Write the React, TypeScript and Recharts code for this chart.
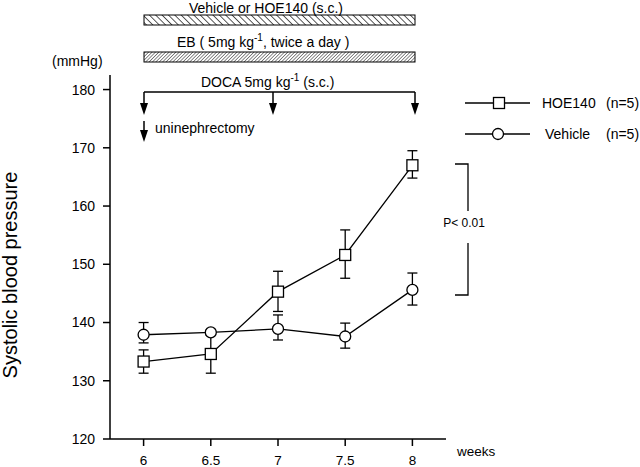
import { ComposedChart, Line, XAxis, YAxis, ErrorBar } from "recharts";

// weeks of age
const weeks = [6, 6.5, 7, 7.5, 8];
// systolic blood pressure, mmHg (mean) and error [below, above]
const hoe140 = [133.3, 134.6, 145.3, 151.6, 167.0];
const hoe140Err = [[2.0, 2.0], [3.3, 3.3], [3.4, 3.5], [4.0, 4.3], [2.2, 2.5]];
const vehicle = [137.9, 138.3, 138.9, 137.6, 145.6];
const vehicleErr = [[1.4, 2.1], [0.5, 0.5], [1.9, 2.4], [2.0, 2.3], [2.6, 2.9]];

const weekTicks = [6, 6.5, 7, 7.5, 8];
const pressureTicks = [120, 130, 140, 150, 160, 170, 180];

const FONT = "'Liberation Sans', Arial, sans-serif";

const rows = weeks.map((w, i) => ({
  week: w,
  hoe140: hoe140[i],
  hoe140Err: hoe140Err[i],
  vehicle: vehicle[i],
  vehicleErr: vehicleErr[i],
}));

const SquareDot = (props: any) => {
  const { cx, cy, index } = props;
  return (
    <rect
      key={`sq-${index}`}
      x={cx - 5.5}
      y={cy - 5.5}
      width={11}
      height={11}
      fill="#fff"
      stroke="#000"
      strokeWidth={1.3}
    />
  );
};

const CircleDot = (props: any) => {
  const { cx, cy, index } = props;
  return <circle key={`ci-${index}`} cx={cx} cy={cy} r={5.5} fill="#fff" stroke="#000" strokeWidth={1.3} />;
};

function Arrow({ x, y1, y2 }: { x: number; y1: number; y2: number }) {
  return (
    <g>
      <line x1={x} y1={y1} x2={x} y2={y2 - 8} stroke="#000" strokeWidth={1.5} />
      <polygon points={`${x - 4},${y2 - 12} ${x + 4},${y2 - 12} ${x},${y2}`} fill="#000" />
    </g>
  );
}

function Overlay() {
  const txt = { fontFamily: FONT, fontSize: 14, fill: "#000" };
  return (
    <svg
      width={640}
      height={467}
      style={{ position: "absolute", left: 0, top: 0, pointerEvents: "none" }}
    >
      <defs>
        <pattern id="hatchA" patternUnits="userSpaceOnUse" width={4.5} height={4.5} patternTransform="rotate(-45)">
          <line x1={0} y1={0} x2={0} y2={4.5} stroke="#000" strokeWidth={1.3} />
        </pattern>
        <pattern id="hatchB" patternUnits="userSpaceOnUse" width={2.4} height={2.4} patternTransform="rotate(45)">
          <line x1={0} y1={0} x2={0} y2={2.4} stroke="#000" strokeWidth={0.9} />
        </pattern>
      </defs>

      {/* treatment bars */}
      <text {...txt} x={266} y={12.5} textAnchor="middle">Vehicle or HOE140 (s.c.)</text>
      <rect x={144} y={15} width={271} height={10} fill="url(#hatchA)" stroke="#000" strokeWidth={1} />

      <text {...txt} x={177} y={47}>
        EB ( 5mg kg<tspan dy={-6} fontSize={10}>-1</tspan>
        <tspan dy={6}>, twice a day )</tspan>
      </text>
      <rect x={144} y={52} width={271} height={10} fill="url(#hatchB)" stroke="#000" strokeWidth={1} />

      <text {...txt} x={201} y={87}>
        DOCA 5mg kg<tspan dy={-6} fontSize={10}>-1</tspan>
        <tspan dy={6}> (s.c.)</tspan>
      </text>
      <line x1={144} y1={92} x2={415} y2={92} stroke="#000" strokeWidth={1.5} />
      <Arrow x={144} y1={92} y2={115} />
      <Arrow x={273} y1={92} y2={115} />
      <Arrow x={415} y1={92} y2={115} />

      <Arrow x={144} y1={121} y2={142} />
      <text {...txt} x={155} y={133}>uninephrectomy</text>

      {/* axis captions */}
      <text {...txt} x={52} y={66}>(mmHg)</text>
      <text {...txt} fontSize={13.5} x={457} y={456}>weeks</text>
      <text
        {...txt}
        fontSize={20}
        x={17}
        y={275}
        textAnchor="middle"
        transform="rotate(-90 17 275)"
      >
        Systolic blood pressure
      </text>

      {/* legend */}
      <line x1={465} y1={103} x2={530} y2={103} stroke="#000" strokeWidth={1.3} />
      <rect x={493.5} y={97.5} width={11} height={11} fill="#fff" stroke="#000" strokeWidth={1.3} />
      <text {...txt} x={542} y={108}>HOE140</text>
      <text {...txt} x={606} y={108}>(n=5)</text>
      <line x1={465} y1={134} x2={530} y2={134} stroke="#000" strokeWidth={1.3} />
      <circle cx={498} cy={134} r={5.5} fill="#fff" stroke="#000" strokeWidth={1.3} />
      <text {...txt} x={545} y={139}>Vehicle</text>
      <text {...txt} x={606} y={139}>(n=5)</text>

      {/* significance bracket */}
      <polyline points="455,164 468,164 468,211" fill="none" stroke="#000" strokeWidth={1.3} />
      <polyline points="468,243 468,295 455,295" fill="none" stroke="#000" strokeWidth={1.3} />
      <text {...txt} fontSize={12} x={464} y={227} textAnchor="middle">P&lt; 0.01</text>
    </svg>
  );
}

export default function App() {
  const tick = { fill: "#000", fontSize: 13.5, fontFamily: FONT };
  return (
    <div style={{ position: "absolute", left: 0, top: 0, width: 640, height: 467, background: "#fff" }}>
      <ComposedChart
        width={640}
        height={467}
        data={rows}
        margin={{ top: 75, right: 194, bottom: 0, left: 50 }}
      >
        <XAxis
          type="number"
          dataKey="week"
          domain={[5.75, 8.25]}
          allowDataOverflow
          ticks={weekTicks}
          height={28}
          tickSize={7}
          tickMargin={9}
          tick={tick}
          stroke="#000"
          strokeWidth={1.5}
        />
        <YAxis
          type="number"
          domain={[120, 182.5]}
          allowDataOverflow
          ticks={pressureTicks}
          width={60}
          tickSize={7}
          tickMargin={8}
          tick={{ ...tick, fontSize: 14 }}
          stroke="#000"
          strokeWidth={1.5}
        />
        {/* lines with error bars */}
        <Line
          dataKey="hoe140"
          type="linear"
          stroke="#000"
          strokeWidth={1.3}
          dot={false}
          activeDot={false}
          isAnimationActive={false}
        >
          <ErrorBar dataKey="hoe140Err" width={5} stroke="#000" strokeWidth={1.3} />
        </Line>
        <Line
          dataKey="vehicle"
          type="linear"
          stroke="#000"
          strokeWidth={1.3}
          dot={false}
          activeDot={false}
          isAnimationActive={false}
        >
          <ErrorBar dataKey="vehicleErr" width={5} stroke="#000" strokeWidth={1.3} />
        </Line>
        {/* open markers drawn on top */}
        <Line
          dataKey="hoe140"
          stroke="none"
          dot={SquareDot}
          activeDot={false}
          isAnimationActive={false}
          {...({ zIndex: 1500 } as any)}
        />
        <Line
          dataKey="vehicle"
          stroke="none"
          dot={CircleDot}
          activeDot={false}
          isAnimationActive={false}
          {...({ zIndex: 1600 } as any)}
        />
      </ComposedChart>
      <Overlay />
    </div>
  );
}
